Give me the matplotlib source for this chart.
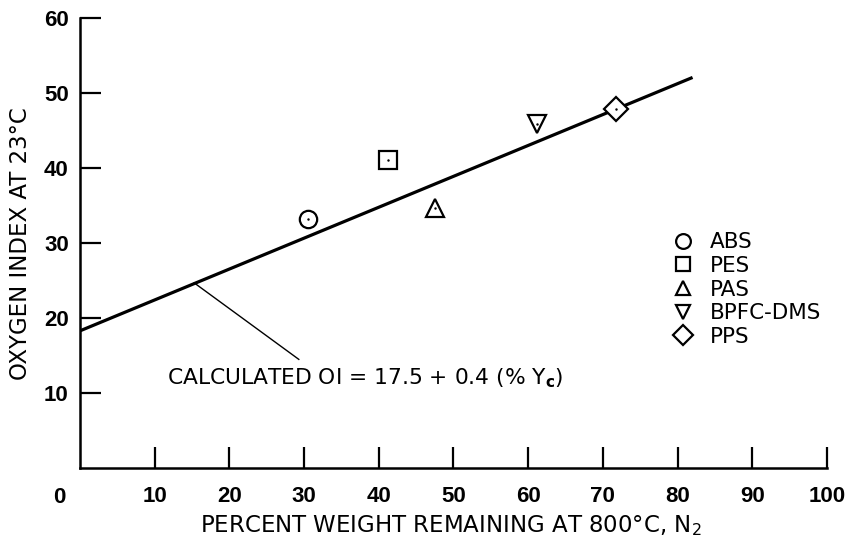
import matplotlib
matplotlib.use('Agg')
import matplotlib.pyplot as plt

plt.rcParams['font.family'] = ['DejaVu Sans']
plt.rcParams['mathtext.fontset'] = 'dejavusans'

# polymers: char yield (% weight remaining at 800 C) vs oxygen index
polymers = ['ABS', 'PES', 'PAS', 'BPFC-DMS', 'PPS']
markers = ['o', 's', '^', 'v', 'D']
char_yield = [30.5, 41.3, 47.5, 61.2, 71.7]
oxygen_index = [33.2, 41.1, 34.7, 45.9, 47.9]

# calculated line as drawn
fit_x = [0, 82]
fit_y = [18.3, 52.1]

# leader from line to the equation
leader_x = [15.3, 29.3]
leader_y = [24.7, 14.5]

x_ticks = [10, 20, 30, 40, 50, 60, 70, 80, 90, 100]
y_ticks = [10, 20, 30, 40, 50, 60]

fig = plt.figure(figsize=(8.5, 5.52), dpi=100)
ax = fig.add_axes([0.094, 0.152, 0.879, 0.815])

ax.plot(fit_x, fit_y, color='black', lw=2.3, solid_capstyle='butt', zorder=2)
ax.plot(leader_x, leader_y, color='black', lw=1.0, zorder=2)

for name, m, x, y in zip(polymers, markers, char_yield, oxygen_index):
    ax.plot([x], [y], marker=m, ms=12.5, mfc='white', mec='black', mew=1.6,
            ls='none', label=name, zorder=3)
    ax.plot([x], [y], marker='.', ms=1.5, color='black', ls='none', zorder=4)

ax.text(11.6, 12.0, r'CALCULATED OI = 17.5 + 0.4 (% Y$_\mathbf{c}$)',
        fontsize=15.7, va='center', ha='left')

ax.legend(loc='upper left', bbox_to_anchor=(0.794, 0.524), frameon=False,
          prop={'size': 15.5}, numpoints=1, markerscale=0.85, handlelength=0.95,
          handletextpad=0.75, labelspacing=0.17, borderpad=0, borderaxespad=0)

ax.set_xlim(0, 100)
ax.set_ylim(0, 60)
ax.set_xticks(x_ticks)
ax.set_yticks(y_ticks)
ax.tick_params(axis='both', direction='in', length=15, width=1.6)
ax.tick_params(axis='x', pad=13)
ax.tick_params(axis='y', pad=8)
for lab in ax.get_xticklabels() + ax.get_yticklabels():
    lab.set_fontfamily('Liberation Sans')
    lab.set_fontweight('bold')
    lab.set_fontsize(16)

ax.text(-2.8, -2.5, '0', fontsize=16, fontweight='bold', family='Liberation Sans',
        ha='center', va='top')

for side in ['top', 'right']:
    ax.spines[side].set_visible(False)
for side in ['left', 'bottom']:
    ax.spines[side].set_linewidth(1.8)

ax.set_xlabel(r'PERCENT WEIGHT REMAINING AT 800°C, N$_2$', fontsize=16.5)
ax.xaxis.set_label_coords(0.497, -0.1)
ax.set_ylabel('OXYGEN INDEX AT 23°C', fontsize=16.5)
ax.yaxis.set_label_coords(-0.064, 0.5)

fig.savefig('out.png', dpi=100)
